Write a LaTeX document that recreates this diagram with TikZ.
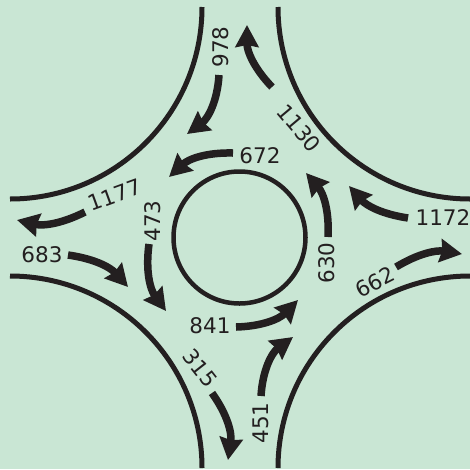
\documentclass[tikz,border=0pt]{standalone}
\usepackage{fontspec}
\setmainfont{DejaVu Sans}
\usepackage{xcolor}
\usetikzlibrary{arrows.meta}
\definecolor{roadbg}{HTML}{C9E6D4}
\definecolor{ink}{HTML}{231F20}

\begin{document}
\begin{tikzpicture}[
    x=1pt, y=-1pt,
    road/.style={draw=ink, line width=5pt},
    flow/.style={draw=ink, line width=7.5pt, -{Stealth[length=22pt, width=23pt, inset=2pt]}},
    count/.style={text=ink, font=\fontsize{21.5}{21.5}\selectfont, inner sep=0pt}
]

% Background
\fill[roadbg] (0,0) rectangle (470,469);
\useasboundingbox (0,0) rectangle (470,469);

% Kerbs and island
\draw[road] (10,199) arc[start angle=90, end angle=0, radius=192pt, y radius=-192pt];
\draw[road] (278,7) arc[start angle=180, end angle=90, radius=192pt, y radius=-192pt];
\draw[road] (10,276) arc[start angle=-90, end angle=0, radius=192pt, y radius=-192pt];
\draw[road] (278,468) arc[start angle=180, end angle=270, radius=192pt, y radius=-192pt];
\node[draw=ink, line width=4.5pt, circle, minimum size=132pt, inner sep=0pt] (island) at (239.5,237.5) {};

% Counts
\node[count, rotate=90] (n978) at (221,47) {978};
\node[count, rotate=20] (n1177) at (115,195) {1177};
\node[count, rotate=90] (n473) at (153,221) {473};
\node[count] (n672) at (260,156) {672};
\node[count, rotate=-50] (n1130) at (299,128) {1130};
\node[count] (n1172) at (443,218) {1172};
\node[count] (n683) at (42,255) {683};
\node[count] (n841) at (210,326) {841};
\node[count, rotate=-52] (n315) at (200,368) {315};
\node[count, rotate=90] (n630) at (327,263) {630};
\node[count, rotate=27] (n662) at (375,282) {662};
\node[count, rotate=90] (n451) at (261,423) {451};

% Arrow ends
\coordinate (a978) at (219,75);   \coordinate (b978) at (187,134);
\coordinate (a672) at (233,153);  \coordinate (b672) at (169,177);
\coordinate (a1177) at (85,212);  \coordinate (b1177) at (17,220);
\coordinate (a473) at (149,244);  \coordinate (b473) at (166,311);
\coordinate (a683) at (68,255);   \coordinate (b683) at (128,287);
\coordinate (a841) at (236,327);  \coordinate (b841) at (298,300);
\coordinate (a315) at (212,393);  \coordinate (b315) at (228,460);
\coordinate (a451) at (261,396);  \coordinate (b451) at (293,337);
\coordinate (a630) at (328,237);  \coordinate (b630) at (306,173);
\coordinate (a662) at (396,267);  \coordinate (b662) at (462,254);
\coordinate (a1172) at (408,218); \coordinate (b1172) at (349,186);
\coordinate (a1130) at (272,87);  \coordinate (b1130) at (247,25);

% Edges
\draw[flow] (a978) to[bend left=25] (b978);
\draw[flow] (a672) to[bend right=22] (b672);
\draw[flow] (a1177) to[bend left=20] (b1177);
\draw[flow] (a473) to[bend right=22] (b473);
\draw[flow] (a683) to[bend left=20] (b683);
\draw[flow] (a841) to[bend right=22] (b841);
\draw[flow] (a315) to[bend left=22] (b315);
\draw[flow] (a451) to[bend left=25] (b451);
\draw[flow] (a630) to[bend right=22] (b630);
\draw[flow] (a662) to[bend left=20] (b662);
\draw[flow] (a1172) to[bend left=20] (b1172);
\draw[flow] (a1130) to[bend left=22] (b1130);

\end{tikzpicture}
\end{document}
